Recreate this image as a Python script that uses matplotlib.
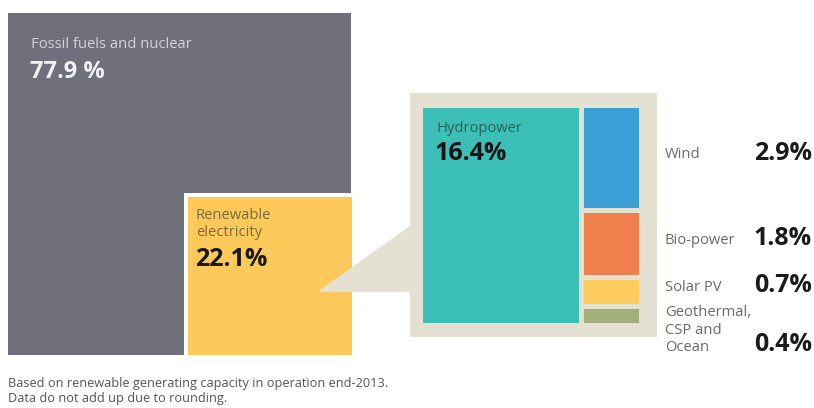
import numpy as np
import matplotlib.pyplot as plt
from matplotlib.patches import Rectangle, Polygon

# Share of global electricity generating capacity, end-2013 (%)
top_labels = ["Fossil fuels and nuclear", "Renewable\nelectricity"]
top_values = [77.9, 22.1]

renew_labels = ["Hydropower", "Wind", "Bio-power", "Solar PV", "Geothermal,\nCSP and\nOcean"]
renew_values = [16.4, 2.9, 1.8, 0.7, 0.4]

GRAY = "#70707c"
YELLOW = "#fdc95b"
BEIGE = "#e4e1d3"
renew_colors = ["#3bbfb6", "#3a9fd5", "#ef7f4d", "#fdcb5e", "#a3af7b"]

plt.rcParams["font.family"] = ["Open Sans", "DejaVu Sans"]
LAB = 10.6
NUM = 18

fig = plt.figure(figsize=(8.14, 4.08), dpi=100)
ax = fig.add_axes([0, 0, 1, 1])
ax.set_xlim(0, 814)
ax.set_ylim(408, 0)
ax.axis("off")

# ---- overall square: fossil vs renewable ----
ox, oy, ow, oh = 8, 13, 343, 342
ax.add_patch(Rectangle((ox, oy), ow, oh, facecolor=GRAY, edgecolor="none"))
total = sum(top_values)
ren_area = top_values[1] / total * ow * oh
aspect = 1.04
yw = np.sqrt(ren_area * aspect)
yh = ren_area / yw
yx0, yy0 = ox + ow - yw + 1, oy + oh - yh
border = 4
ax.add_patch(Rectangle((yx0 - border, yy0 - border), yw + border, yh + border,
                       facecolor="white", edgecolor="none"))
ax.add_patch(Rectangle((yx0, yy0), yw, yh, facecolor=YELLOW, edgecolor="none"))

ax.text(ox + 23, oy + 31, top_labels[0], color="#d3d3da", fontsize=LAB,
        va="center", ha="left")
ax.text(ox + 22, oy + 59, f"{top_values[0]} %", color="#f2f2f2", fontsize=NUM - 1,
        va="center", ha="left", fontweight="bold")
ax.text(yx0 + 8, yy0 + 27, top_labels[1], color="#7b6a3c", fontsize=LAB,
        va="center", ha="left", linespacing=1.2)
ax.text(yx0 + 7, yy0 + 62, f"{top_values[1]}%", color="#1a1a1a", fontsize=NUM,
        va="center", ha="left", fontweight="bold")

# ---- callout panel with renewable breakdown ----
bx0, by0, bx1, by1 = 410, 93, 657, 337
ax.add_patch(Rectangle((bx0, by0), bx1 - bx0, by1 - by0, facecolor=BEIGE,
                       edgecolor="none"))
tip = (yx0 + 0.79 * yw, yy0 + 0.6 * yh)
ax.add_patch(Polygon([tip, (bx0 + 1, by0 + 132), (bx0 + 1, tip[1])],
                     closed=True, facecolor=BEIGE, edgecolor="none"))

ix0, iy0, iw, ih = 423, 108, 216, 215
gap = 5
rtotal = sum(renew_values)
hw = (iw - gap) * renew_values[0] / rtotal
ax.add_patch(Rectangle((ix0, iy0), hw, ih, facecolor=renew_colors[0],
                       edgecolor="none"))
ax.text(ix0 + 13, iy0 + 20, renew_labels[0], color="#2d5f5c", fontsize=LAB,
        va="center", ha="left")
ax.text(ix0 + 12, iy0 + 46, f"{renew_values[0]}%", color="#141414", fontsize=NUM,
        va="center", ha="left", fontweight="bold")

cx0 = ix0 + hw + gap
cw = ix0 + iw - cx0
rest = renew_values[1:]
avail = ih - gap * (len(rest) - 1)
y = iy0
label_y = []
for val, col in zip(rest, renew_colors[1:]):
    h = avail * val / sum(rest)
    ax.add_patch(Rectangle((cx0, y), cw, h, facecolor=col, edgecolor="none"))
    label_y.append(y + h / 2)
    y += h + gap

# labels to the right of the panel
offsets = [-5, -6, -7, 28]
for lab, val, ly, off in zip(renew_labels[1:], rest, label_y, offsets):
    if "\n" in lab:
        ax.text(665, ly + off - 14, lab, color="#6a6a6a", fontsize=LAB,
                va="center", ha="left", linespacing=1.25)
    else:
        ax.text(665, ly + off + 2, lab, color="#6a6a6a", fontsize=LAB,
                va="center", ha="left")
    ax.text(812, ly + off, f"{val}%", color="#1a1a1a", fontsize=NUM,
            va="center", ha="right", fontweight="bold")

ax.text(8, 391, "Based on renewable generating capacity in operation end-2013.\n"
        "Data do not add up due to rounding.", color="#555555", fontsize=9.2,
        va="center", ha="left", linespacing=1.15)

fig.savefig("out.png", dpi=100)
